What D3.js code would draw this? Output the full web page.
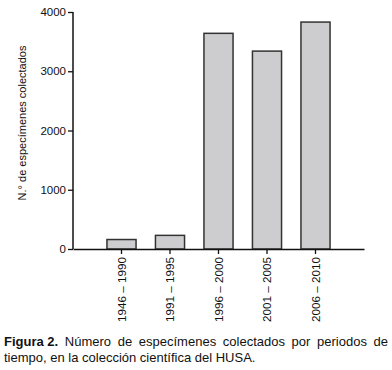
<!DOCTYPE html>
<html>
<head>
<meta charset="utf-8">
<script src="https://cdn.jsdelivr.net/npm/d3@7"></script>
<style>
  body { margin: 0; background: #fff; }
  svg { display: block; font-family: "Liberation Sans", Arial, sans-serif; }
</style>
</head>
<body>
<svg id="chart" width="392" height="370"></svg>
<script>
const periods = ['1946 – 1990', '1991 – 1995', '1996 – 2000', '2001 – 2005', '2006 – 2010'];
const specimens = [160, 230, 3640, 3340, 3830];
const yTicks = [0, 1000, 2000, 3000, 4000];

const svg = d3.select('#chart');

const plotLeft = 73;
const plotRight = 364;
const plotTop = 12;
const plotBottom = 249;

const xscale = d3.scaleBand()
  .domain(periods)
  .range([plotLeft, plotRight])
  .paddingInner(0.4)
  .paddingOuter(0.7);

const yscale = d3.scaleLinear()
  .domain([0, 4000])
  .range([plotBottom, plotTop]);

// bars
svg.append('g')
  .selectAll('rect')
  .data(periods)
  .enter()
  .append('rect')
  .attr('x', (d) => xscale(d))
  .attr('y', (d, i) => yscale(specimens[i]))
  .attr('width', xscale.bandwidth())
  .attr('height', (d, i) => plotBottom - yscale(specimens[i]))
  .attr('fill', '#cdcdcf')
  .attr('stroke', '#333')
  .attr('stroke-width', 1.5);

// left axis
const leftAxis = d3.axisLeft(yscale)
  .tickValues(yTicks)
  .tickSize(5)
  .tickPadding(2)
  .tickFormat(d3.format('d'));

const ya = svg.append('g')
  .attr('transform', `translate(${plotLeft}, 0)`)
  .call(leftAxis);
ya.select('.domain').attr('stroke', '#111').attr('stroke-width', 1.5).attr('d', `M0,${plotTop}V${plotBottom}`);
ya.selectAll('.tick line').attr('stroke', '#111').attr('stroke-width', 1.3);
ya.selectAll('.tick text')
  .attr('font-size', 11.5)
  .attr('font-family', '"Liberation Sans", Arial, sans-serif')
  .attr('fill', '#111');

// bottom axis
const bottomAxis = d3.axisBottom(xscale)
  .tickSize(5)
  .tickSizeOuter(0);

const xa = svg.append('g')
  .attr('transform', `translate(0, ${plotBottom})`)
  .call(bottomAxis);
xa.select('.domain').attr('stroke', '#111').attr('stroke-width', 1.5);
xa.selectAll('.tick line').attr('stroke', '#111').attr('stroke-width', 1.3);
xa.selectAll('.tick text')
  .attr('font-size', 11.7)
  .attr('font-family', '"Liberation Sans", Arial, sans-serif')
  .attr('fill', '#111')
  .attr('text-anchor', 'end')
  .attr('dy', '0.35em')
  .attr('transform', 'translate(0, 8) rotate(-90)')
  .attr('x', 0)
  .attr('y', 0);

// y label
svg.append('text')
  .text('N.° de especímenes colectados')
  .attr('transform', `translate(26, 123) rotate(-90)`)
  .attr('text-anchor', 'middle')
  .attr('font-size', 11)
  .attr('fill', '#111');

// caption, first line justified
const line1 = [['Figura 2.', true], ['Número', false], ['de', false], ['especímenes', false],
  ['colectados', false], ['por', false], ['periodos', false], ['de', false]];
const cap = svg.append('g').attr('font-size', 13).attr('fill', '#111');
const words = cap.selectAll('text.w')
  .data(line1)
  .enter()
  .append('text')
  .attr('class', 'w')
  .attr('y', 346)
  .attr('font-weight', (d) => d[1] ? 'bold' : 'normal')
  .text((d) => d[0]);
const widths = words.nodes().map((n) => n.getComputedTextLength());
const capLeft = 4, capRight = 388;
const gap = (capRight - capLeft - d3.sum(widths)) / (line1.length - 1);
let cx = capLeft;
words.attr('x', (d, i) => {
  const x = cx;
  cx += widths[i] + gap;
  return x;
});
cap.append('text')
  .attr('x', capLeft)
  .attr('y', 362)
  .text('tiempo, en la colección científica del HUSA.');
</script>
</body>
</html>
